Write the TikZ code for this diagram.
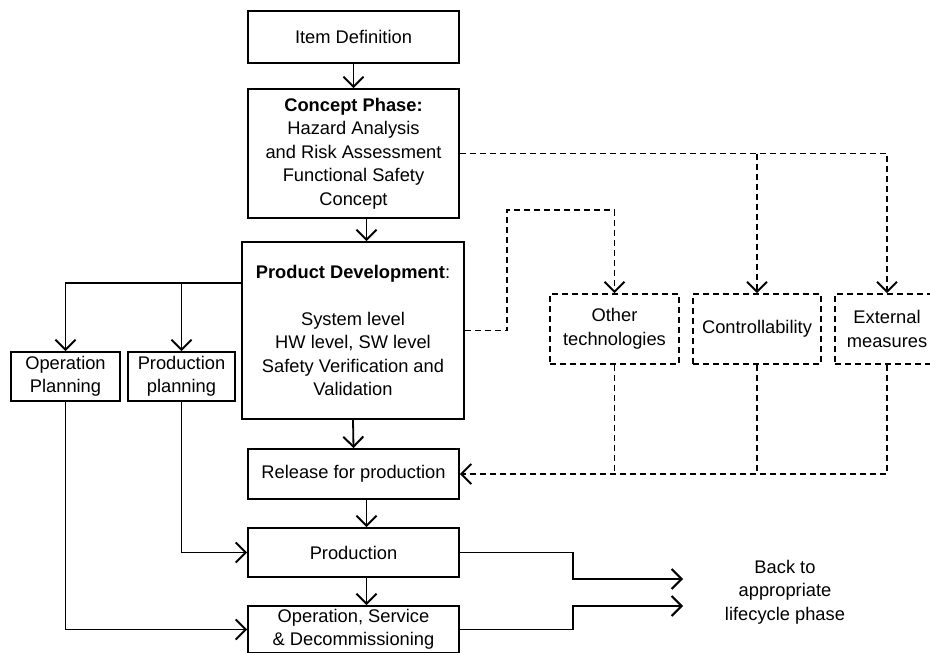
\documentclass[tikz,border=0pt]{standalone}
\usepackage{fontspec}
\setmainfont{Liberation Sans}
\usetikzlibrary{arrows.meta}
\begin{document}
\begin{tikzpicture}[x=1pt,y=-1pt,
  every node/.style={font=\fontsize{18.3}{23.5}\selectfont, align=center, inner sep=0pt},
  box/.style={draw, line width=1.8pt, rectangle},
  dbox/.style={draw, line width=1.6pt, rectangle, dash pattern=on 6pt off 4pt},
  conn/.style={line width=1.8pt, -{Straight Barb[length=10pt,width=20pt,line width=2pt]}},
  dconn/.style={line width=1.6pt, dash pattern=on 6pt off 4pt, -{Straight Barb[length=10pt,width=20pt,line width=2pt]}},
  dplain/.style={line width=1.6pt, dash pattern=on 6pt off 4pt}]
\useasboundingbox (0,0) rectangle (930,653);
\node[box, minimum width=211pt, minimum height=52pt] (item) at (353.5,37) {Item Definition};
\node[box, minimum width=211pt, minimum height=129pt] (concept) at (353.5,153.5)
  {\textbf{Concept Phase:}\\Hazard Analysis\\and Risk Assessment\\Functional Safety\\Concept};
\node[box, minimum width=222pt, minimum height=177pt] (pd) at (353,330.5)
  {\textbf{Product Development}:\\[23.5pt]System level\\HW level, SW level\\Safety Verification and\\Validation};
\node[box, minimum width=211pt, minimum height=50pt] (rel) at (353.5,474) {Release for production};
\node[box, minimum width=211pt, minimum height=49pt] (prod) at (353.5,552.5) {Production};
\node[box, minimum width=211pt, minimum height=47pt] (oper) at (353.5,629.5) {Operation, Service\\\& Decommissioning};
\node[box, minimum width=109pt, minimum height=49pt] (opplan) at (65.5,376.5) {Operation\\Planning};
\node[box, minimum width=107pt, minimum height=49pt] (prplan) at (181.5,376.5) {Production\\planning};
\node[dbox, minimum width=129pt, minimum height=70pt] (other) at (614.5,329) {Other\\technologies};
\node[dbox, minimum width=128pt, minimum height=70pt] (ctrl) at (757,329) {Controllability};
\node[dbox, minimum width=104pt, minimum height=70pt] (ext) at (887,329) {External\\measures};
\node (back) at (785,592) {Back to\\appropriate\\lifecycle phase};
\coordinate (j1) at (507,210);
\coordinate (pdl) at (242,283);
\coordinate (b1) at (683,579);
\coordinate (b2) at (683,606);
% solid connectors
\draw[conn] (item) -- (concept);
\draw[conn] ([xshift=13pt]concept.south) -- ([xshift=13pt]concept.south |- pd.north);
\draw[conn] (pd.south) -- (rel.north);
\draw[conn] ([xshift=13pt]rel.south) -- ([xshift=13pt]rel.south |- prod.north);
\draw[conn] ([xshift=13pt]prod.south) -- ([xshift=13pt]prod.south |- oper.north);
\draw[conn] (pdl) -| (opplan.north);
\draw[conn] (pdl -| prplan.north) -- (prplan.north);
\draw[conn] (prplan.south) |- (prod.west);
\draw[conn] (opplan.south) |- (oper.west);
\draw[conn] (prod.east) -- ++(113,0) |- (b1);
\draw[conn] (oper.east) -- ++(113,0) |- (b2);
% dashed connectors
\draw[dconn] (concept.east) -| (ext.north);
\draw[dconn] (concept.east -| ctrl.north) -- (ctrl.north);
\draw[dconn] (pd.east) -| (j1) -- (j1 -| other.north) -- (other.north);
\draw[dplain] (other.south) -- (other.south |- rel.east);
\draw[dplain] (ctrl.south) -- (ctrl.south |- rel.east);
\draw[dconn] (ext.south) |- (rel.east);
\end{tikzpicture}
\end{document}
